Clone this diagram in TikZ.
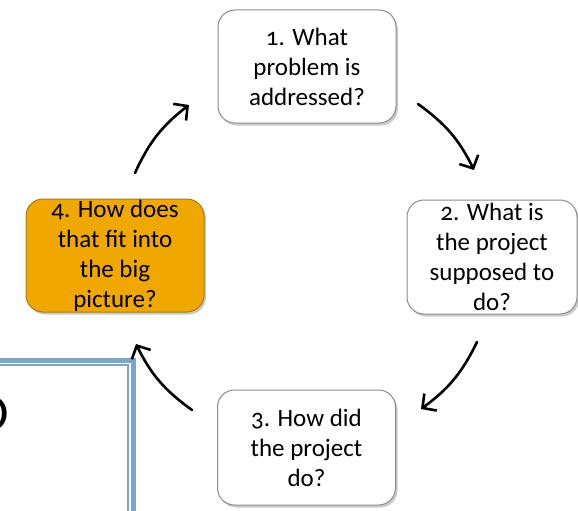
\documentclass[tikz,border=0pt]{standalone}
\usepackage{fontspec}
\setmainfont{Carlito}[Numbers=OldStyle]
\usetikzlibrary{arrows.meta,shadows}
\definecolor{boxborder}{HTML}{8C8C8C}
\definecolor{orangefill}{HTML}{F0A800}
\definecolor{orangeborder}{HTML}{A87A10}
\definecolor{frameblue}{HTML}{7BA5CB}
\tikzset{
  qbox/.style={draw=boxborder, line width=1pt, fill=white, rounded corners=17pt,
    align=center, inner sep=0pt, font=\fontsize{25}{30}\selectfont,
    drop shadow={shadow xshift=2pt, shadow yshift=-2.5pt, opacity=0.35, fill=black!60}},
  hibox/.style={qbox, fill=orangefill, draw=orangeborder},
  cyc/.style={line width=2.6pt, line cap=round, -{Straight Barb[length=10pt, width=21pt, line width=2.6pt]}}
}
\begin{document}
\begin{tikzpicture}[x=1pt, y=-1pt]
\useasboundingbox (0,0) rectangle (578,511);
\clip (0,0) rectangle (578,511);
% blue frame (partial slide box)
\draw[frameblue, line width=5pt] (-10,360) -- (133.7,360) -- (133.7,520);
\draw[frameblue, line width=1.8pt] (-10,365.2) -- (127.7,365.2) -- (127.7,520);
\node[anchor=east, inner sep=0pt, font=\fontsize{52}{52}\selectfont] (frag) at (9.5,414) {O};
% boxes
\node[qbox, minimum width=178pt, minimum height=113pt] (q1) at (307,66.5) {1. What\\problem is\\addressed?};
\node[qbox, minimum width=170pt, minimum height=114pt] (q2) at (492,257) {2. What is\\the project\\supposed to\\do?};
\node[qbox, minimum width=178pt, minimum height=115pt] (q3) at (306.5,447.5) {3. How did\\the project\\do?};
\node[hibox, minimum width=178pt, minimum height=113pt] (q4) at (115,255.5) {4. How does\\that fit into\\the big\\picture?};
% arrow end points
\coordinate (a1s) at (418,104);
\coordinate (a1e) at (474,170);
\coordinate (a2s) at (477,342);
\coordinate (a2e) at (421,409);
\coordinate (a3s) at (192,410);
\coordinate (a3e) at (136,344);
\coordinate (a4s) at (135,173);
\coordinate (a4e) at (189,105);
\draw[cyc] (a1s) to[bend left=14] (a1e);
\draw[cyc] (a2s) to[bend left=14] (a2e);
\draw[cyc] (a3s) to[bend left=14] (a3e);
\draw[cyc] (a4s) to[bend left=14] (a4e);
\end{tikzpicture}
\end{document}
